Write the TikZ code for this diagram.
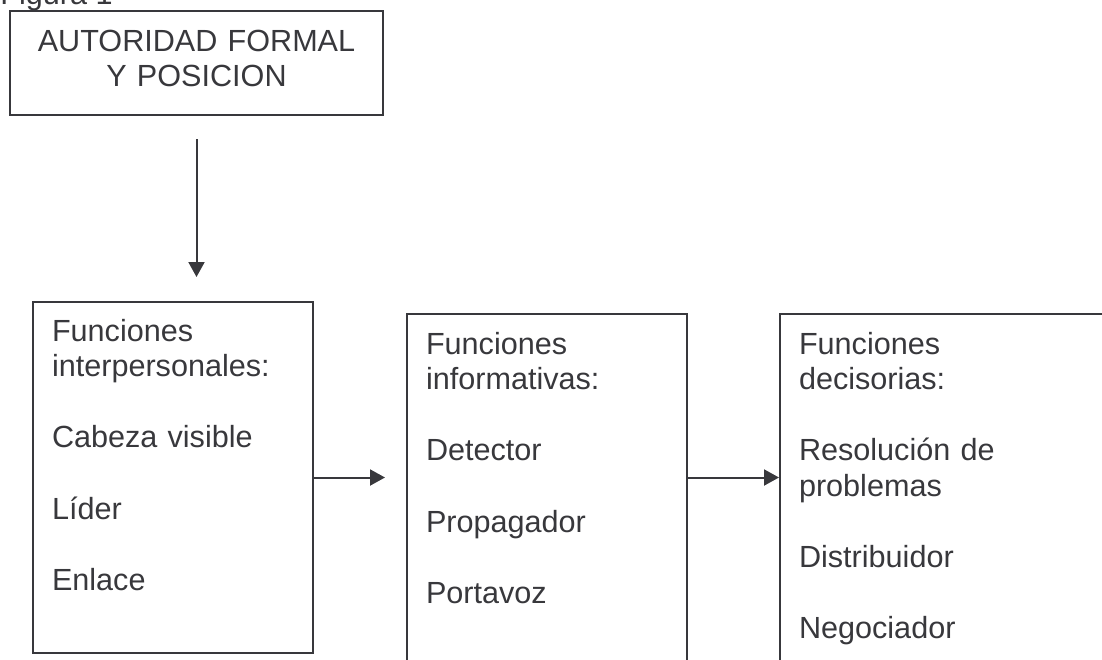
\documentclass[tikz,border=0pt]{standalone}
\usepackage{fontspec}
\setmainfont{Liberation Sans}
\usepackage{tikz}
\usetikzlibrary{arrows.meta, positioning}
\definecolor{ink}{HTML}{38383C}
\tikzset{>={Triangle[width=8pt,length=7.5pt]},
         every node/.style={font=\fontsize{15.3pt}{17.8pt}\selectfont, text=ink},
         fbox/.style={draw=ink, line width=1pt, anchor=north west,
                      align=left, inner xsep=9.5pt, inner ysep=0pt},
         link/.style={->, draw=ink, line width=1pt},
         }

\begin{document}
\begin{tikzpicture}[x=0.5pt, y=-0.5pt]
    \useasboundingbox (0,0) rectangle (1102,659);
    \clip (0,0) rectangle (1102,659);
    \node[anchor=base west, inner sep=0pt] (fig) at (0,4) {Figura 1};
    \node[fbox, align=center, inner xsep=0pt, text width=186.5pt,
          text height=20pt, text depth=32pt] (auth) at (9,10)
          {AUTORIDAD FORMAL\\Y POSICION};
    \node[fbox, text width=121pt, text height=19.5pt, text depth=156pt] (inter) at (32,301)
          {Funciones\\interpersonales:\\[17.8pt]Cabeza visible\\[17.8pt]L\'ider\\[17.8pt]Enlace};
    \node[fbox, text width=121pt, text height=20pt, text depth=200pt] (info) at (406,313)
          {Funciones\\informativas:\\[17.8pt]Detector\\[17.8pt]Propagador\\[17.8pt]Portavoz};
    \node[fbox, text width=200pt, text height=20pt, text depth=200pt] (dec) at (779,313)
          {Funciones\\decisorias:\\[17.8pt]Resoluci\'on de\\problemas\\[17.8pt]Distribuidor\\[17.8pt]Negociador};

    \coordinate (d1) at ([yshift=-11.5pt]auth.south);
    \coordinate (d2) at ([yshift=12pt]d1 |- inter.north);
    \coordinate (h1) at ([xshift=35.5pt]inter.east);
    \coordinate (h2) at (info.east |- inter.east);
    \coordinate (h3) at (dec.west |- inter.east);

    \draw[link] (d1) -- (d2);
    \draw[link] (inter.east) -- (h1);
    \draw[link] (h2) -- (h3);
\end{tikzpicture}
\end{document}
